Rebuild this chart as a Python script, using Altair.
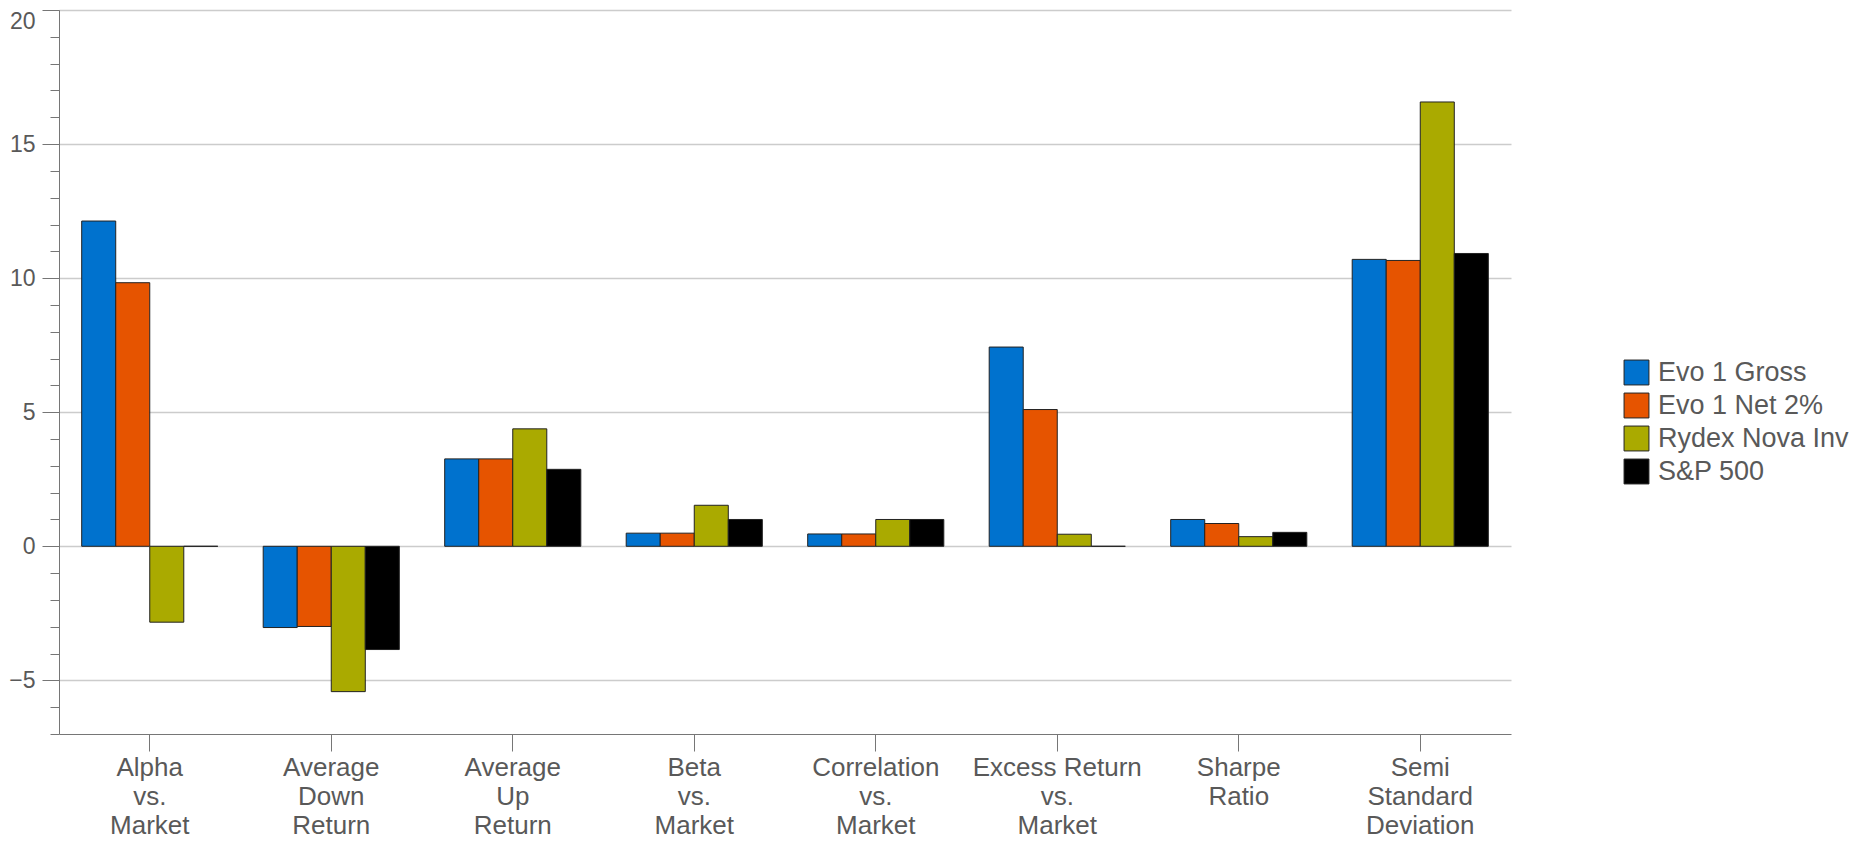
import altair as alt
import pandas as pd

categories = [
    "Alpha\nvs.\nMarket",
    "Average\nDown\nReturn",
    "Average\nUp\nReturn",
    "Beta\nvs.\nMarket",
    "Correlation\nvs.\nMarket",
    "Excess Return\nvs.\nMarket",
    "Sharpe\nRatio",
    "Semi\nStandard\nDeviation",
]
series = ["Evo 1 Gross", "Evo 1 Net 2%", "Rydex Nova Inv", "S&P 500"]
colors = ["#0072CE", "#E65400", "#AAAA00", "#000000"]

evo_gross = [12.13, -3.03, 3.26, 0.49, 0.46, 7.43, 1.00, 10.70]
evo_net = [9.83, -2.99, 3.26, 0.49, 0.46, 5.10, 0.85, 10.66]
rydex = [-2.83, -5.42, 4.38, 1.53, 1.00, 0.45, 0.36, 16.57]
sp500 = [0.0, -3.85, 2.87, 1.00, 1.00, 0.0, 0.52, 10.92]

major_ticks = [-5, 0, 5, 10, 15, 20]
minor_ticks = list(range(-7, 21))

rows = []
for name, vals in zip(series, [evo_gross, evo_net, rydex, sp500]):
    for c, v in zip(categories, vals):
        rows.append({"category": c, "series": name, "value": v})
df = pd.DataFrame(rows)

FONT = "Arial, Liberation Sans, sans-serif"
TXT = "#595959"
AX = "#767676"

x_enc = alt.X(
    "category:N",
    sort=categories,
    scale=alt.Scale(paddingInner=0.25, paddingOuter=0.125),
    axis=alt.Axis(
        title=None,
        labelExpr="split(datum.label, '\\n')",
        labelAngle=0,
        labelFontSize=26,
        labelLineHeight=29,
        labelBaseline="top",
        labelPadding=3,
        tickSize=17,
        labelColor=TXT,
        tickColor=AX,
        domainColor=AX,
        labelFont=FONT,
        grid=False,
    ),
)
xoff = alt.XOffset("series:N", sort=series, scale=alt.Scale(paddingInner=0, paddingOuter=0))

bars = alt.Chart(df).mark_bar(stroke="#222222", strokeWidth=1).encode(
    x=x_enc,
    xOffset=xoff,
    y=alt.Y(
        "value:Q",
        scale=alt.Scale(domain=[-7, 20], nice=False, zero=False),
        axis=alt.Axis(
            title=None,
            orient="left",
            values=major_ticks,
            grid=True,
            gridColor="#cccccc",
            gridWidth=1.5,
            tickSize=17,
            labelPadding=7,
            labelFontSize=23,
            labelColor=TXT,
            labelFont=FONT,
            labelFlush=True,
            tickColor=AX,
            domainColor=AX,
        ),
    ),
    fill=alt.Fill(
        "series:N",
        sort=series,
        scale=alt.Scale(domain=series, range=colors),
        legend=alt.Legend(
            title=None,
            orient="none",
            legendX=1564,
            legendY=349,
            symbolType="square",
            symbolSize=620,
            symbolStrokeColor="#222222",
            symbolStrokeWidth=1,
            labelFontSize=27,
            labelColor=TXT,
            labelFont=FONT,
            labelOffset=8,
            labelLimit=400,
            rowPadding=4,
        ),
    ),
)

minor = alt.Chart(df).mark_bar(opacity=0).encode(
    x=x_enc,
    xOffset=xoff,
    y=alt.Y(
        "value:Q",
        scale=alt.Scale(domain=[-7, 20], nice=False, zero=False),
        axis=alt.Axis(
            title=None,
            orient="left",
            values=minor_ticks,
            labels=False,
            grid=False,
            domain=False,
            tickSize=9,
            tickColor=AX,
        ),
    ),
)

chart = (
    alt.layer(bars, minor)
    .resolve_axis(y="independent")
    .properties(
        width=1452,
        height=724,
        autosize=alt.AutoSizeParams(type="none"),
        padding={"left": 51, "top": 2, "right": 352, "bottom": 105},
    )
    .configure_view(strokeWidth=0)
)

chart.save("out.html", embed_options={"renderer": "svg", "actions": False})
